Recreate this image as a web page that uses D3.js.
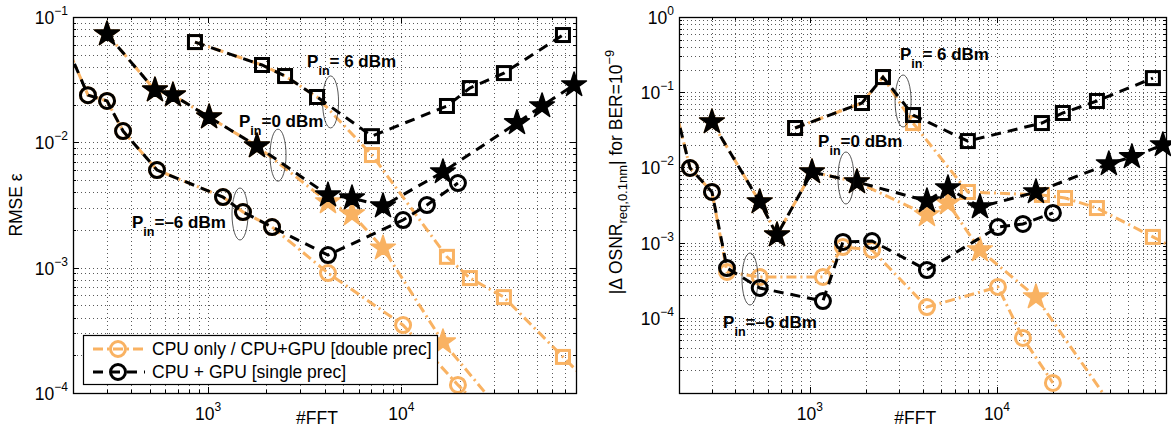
<!DOCTYPE html>
<meta charset="utf-8">
<head>
  <style>
    html, body { margin: 0; padding: 0; background: #fff; }
    svg text { font-family: "Liberation Sans", Arial, Helvetica, sans-serif; fill: #000; }
  </style>
</head>
<script src="https://cdn.jsdelivr.net/npm/d3@7/dist/d3.min.js"></script>
<body>
<script>
// x axis (#FFT) shared by both panels
var nfftDomain = [200, 80000];
var xTickExp = [3, 4];

// left panel: RMSE eps, y range and labelled decades
var rmseDomain = [1e-4, 1e-1];
var rmseTickExp = [-1, -2, -3, -4];

// right panel: |dOSNR| for BER=1e-9 (1e-5 is not labelled)
var osnrDomain = [1e-5, 1];
var osnrTickExp = [0, -1, -2, -3, -4];

// series are [nfft, value]; Dbl = CPU / CPU+GPU double, Sgl = CPU+GPU single
// Pin = 6 dBm (squares), 0 dBm (stars), -6 dBm (circles)
var rmseSq6Dbl = [[855,0.0631],[1900,0.0414],[2500,0.0338],[3660,0.0230],[7040,0.00792],[17200,0.00122],[22600,0.000826],[33900,0.000582],[68500,0.000194],[130000,0.000072]];
var rmseSq6Sgl = [[855,0.0631],[1900,0.0414],[2500,0.0338],[3660,0.0230],[7040,0.0112],[17200,0.0195],[22600,0.0271],[33900,0.0357],[68500,0.0718]];
var rmseSt0Dbl = [[300,0.0731],[531,0.0261],[658,0.0238],[1012,0.0159],[1790,0.00934],[4170,0.00334],[5550,0.00268],[8030,0.00143],[16400,0.000255],[33000,0.00007]];
var rmseSt0Sgl = [[300,0.0731],[531,0.0261],[658,0.0238],[1012,0.0159],[1790,0.00934],[4170,0.00379],[5550,0.00359],[8030,0.00310],[16400,0.00580],[39600,0.0143],[53400,0.0195],[78200,0.0287]];
var rmseCi6Dbl = [[160,0.1],[239,0.0238],[300,0.0214],[363,0.0123],[544,0.00601],[1194,0.00366],[1515,0.00278],[2142,0.00211],[4170,0.000906],[10200,0.000348],[19600,0.000116],[40000,0.000038]];
var rmseCi6Sgl = [[160,0.1],[239,0.0238],[300,0.0214],[363,0.0123],[544,0.00601],[1194,0.00366],[1515,0.00278],[2142,0.00211],[4170,0.00126],[10200,0.00240],[13550,0.00316],[19600,0.00473]];

var osnrSq6Dbl = [[834,0.0334],[1900,0.0718],[2460,0.159],[3560,0.0389],[6990,0.00471],[17380,0.00430],[23100,0.00392],[34200,0.00288],[68100,0.00119],[94800,0.000773]];
var osnrSq6Sgl = [[834,0.0334],[1900,0.0718],[2460,0.159],[3560,0.0497],[6990,0.0224],[17380,0.0389],[22500,0.0529],[34200,0.0764],[68100,0.154]];
var osnrSt0Dbl = [[300,0.0402],[540,0.00347],[668,0.00126],[1027,0.00869],[1786,0.00640],[4225,0.00233],[5470,0.00336],[8110,0.000797],[16150,0.000189],[45400,0.0000047]];
var osnrSt0Sgl = [[300,0.0402],[540,0.00347],[668,0.00126],[1027,0.00869],[1786,0.00640],[4225,0.00357],[5470,0.00532],[8110,0.00297],[16150,0.00471],[39600,0.0111],[52600,0.0138],[77000,0.0199]];
var osnrCi6Dbl = [[158,0.42],[229,0.00982],[300,0.00471],[361,0.000407],[540,0.000349],[1175,0.000349],[1503,0.000874],[2150,0.000797],[4225,0.000139],[10120,0.000257],[13760,0.0000539],[19900,0.0000136]];
var osnrCi6Sgl = [[158,0.42],[229,0.00982],[300,0.00471],[361,0.000459],[540,0.000249],[1175,0.000167],[1503,0.00102],[2150,0.00105],[4225,0.000432],[10120,0.00161],[13760,0.00177],[19900,0.00248]];

// annotations: [nfft, value] of the text anchor and of the ellipse centre
var rmseNotes = [
  {txt: "= 6 dBm", at: [3250, 0.0399], ell: [4300, 0.021]},
  {txt: "=0 dBm", at: [1445, 0.01324], ell: [2300, 0.0079]},
  {txt: "=\u20136 dBm", at: [404, 0.00207], ell: [1462, 0.00268]}
];
var osnrNotes = [
  {txt: "= 6 dBm", at: [3030, 0.268], ell: [3150, 0.0764]},
  {txt: "=0 dBm", at: [1107, 0.01867], ell: [1560, 0.00723]},
  {txt: "=\u20136 dBm", at: [344, 0.0000731], ell: [479, 0.000328]}
];

var legendLabels = ["CPU only / CPU+GPU [double prec]", "CPU + GPU [single prec]"];

var ORANGE = "#f9b262";
var dashBlack = "10,7";
var dashOrange = "10,4,2,4";
var FS = 17.5;

var svg = d3.select("body").append("svg")
  .attr("width", 1171).attr("height", 429);

var clipId = 0;

function logTicks(dom) {
  var out = [];
  for (var e = Math.floor(Math.log10(dom[0])); e <= Math.ceil(Math.log10(dom[1])); e++) {
    for (var k = 1; k <= 9; k++) {
      var v = k * Math.pow(10, e);
      if (v >= dom[0] * 0.999 && v <= dom[1] * 1.001) out.push({v: v, major: k == 1});
    }
  }
  return out;
}

function powText(sel, e) {
  sel.text("10");
  sel.append("tspan").attr("dy", -9).attr("font-size", 12)
    .text(e < 0 ? "\u2212" + (-e) : "" + e);
}

function drawPanel(opt) {
  var w = opt.width, h = opt.height;
  var g = svg.append("g").attr("transform", "translate(" + opt.left + "," + opt.top + ")");
  var x = d3.scaleLog().domain(nfftDomain).range([0, w]);
  var y = d3.scaleLog().domain(opt.yDomain).range([h, 0]);

  var xt = logTicks(nfftDomain), yt = logTicks(opt.yDomain);

  // dotted grid at every major and minor tick
  var grid = g.append("g").attr("stroke", "#222").attr("stroke-width", 1)
    .attr("stroke-dasharray", "1,3").attr("opacity", 0.75);
  grid.selectAll(".gx").data(xt).enter().append("line")
    .attr("x1", function(d) { return Math.round(x(d.v)) + 0.5; })
    .attr("x2", function(d) { return Math.round(x(d.v)) + 0.5; })
    .attr("y1", 0).attr("y2", h);
  grid.selectAll(".gy").data(yt).enter().append("line")
    .attr("y1", function(d) { return Math.round(y(d.v)) + 0.5; })
    .attr("y2", function(d) { return Math.round(y(d.v)) + 0.5; })
    .attr("x1", 0).attr("x2", w);

  // inward ticks on all four sides
  var ticks = g.append("g").attr("stroke", "#000").attr("stroke-width", 1);
  xt.forEach(function(d) {
    var px = Math.round(x(d.v)) + 0.5, len = d.major ? 6 : 3;
    ticks.append("line").attr("x1", px).attr("x2", px).attr("y1", h).attr("y2", h - len);
    ticks.append("line").attr("x1", px).attr("x2", px).attr("y1", 0).attr("y2", len);
  });
  yt.forEach(function(d) {
    var py = Math.round(y(d.v)) + 0.5, len = d.major ? 6 : 3;
    ticks.append("line").attr("y1", py).attr("y2", py).attr("x1", 0).attr("x2", len);
    ticks.append("line").attr("y1", py).attr("y2", py).attr("x1", w).attr("x2", w - len);
  });

  // tick labels
  g.selectAll(".xl").data(xTickExp).enter().append("text")
    .attr("x", function(e) { return x(Math.pow(10, e)); })
    .attr("y", h + 27).attr("text-anchor", "middle").attr("font-size", FS)
    .each(function(e) { powText(d3.select(this), e); });
  g.selectAll(".yl").data(opt.yTickExp).enter().append("text")
    .attr("x", -5).attr("y", function(e) { return y(Math.pow(10, e)) + 7; })
    .attr("text-anchor", "end").attr("font-size", FS)
    .each(function(e) { powText(d3.select(this), e); });

  // axis titles
  g.append("text").attr("x", w * 0.485).attr("y", h + 31)
    .attr("text-anchor", "middle").attr("font-size", FS).text("#FFT");
  opt.yTitle(g, h);

  // data, lines clipped to the box, markers only where inside the domain
  var cid = "clip" + (clipId++);
  g.append("clipPath").attr("id", cid).append("rect").attr("width", w).attr("height", h);
  var line = d3.line().x(function(d) { return x(d[0]); }).y(function(d) { return y(d[1]); });
  function inside(d) {
    return d[0] >= nfftDomain[0] && d[0] <= nfftDomain[1] && d[1] >= opt.yDomain[0] && d[1] <= opt.yDomain[1];
  }
  function series(data, shape, col, dash) {
    g.append("path").datum(data).attr("d", line).attr("clip-path", "url(#" + cid + ")")
      .attr("fill", "none").attr("stroke", col).attr("stroke-width", 3)
      .attr("stroke-dasharray", dash);
    var m = g.append("g");
    var pts = data.filter(inside);
    if (shape == "circle") {
      m.selectAll("circle").data(pts).enter().append("circle")
        .attr("cx", function(d) { return x(d[0]); }).attr("cy", function(d) { return y(d[1]); })
        .attr("r", 7.5).attr("fill", "none").attr("stroke", col).attr("stroke-width", 3);
    } else if (shape == "square") {
      m.selectAll("rect").data(pts).enter().append("rect")
        .attr("x", function(d) { return x(d[0]) - 6.5; }).attr("y", function(d) { return y(d[1]) - 6.5; })
        .attr("width", 13).attr("height", 13)
        .attr("fill", "none").attr("stroke", col).attr("stroke-width", 3);
    } else {
      m.selectAll("path").data(pts).enter().append("path")
        .attr("d", d3.symbol(d3.symbolStar, 190))
        .attr("transform", function(d) { return "translate(" + x(d[0]) + "," + y(d[1]) + ")"; })
        .attr("fill", col).attr("stroke", col).attr("stroke-width", 1.5).attr("stroke-linejoin", "round");
    }
  }
  var s = opt.series;
  series(s.sq6Dbl, "square", ORANGE, dashOrange);
  series(s.st0Dbl, "star", ORANGE, dashOrange);
  series(s.ci6Dbl, "circle", ORANGE, dashOrange);
  series(s.sq6Sgl, "square", "#000", dashBlack);
  series(s.st0Sgl, "star", "#000", dashBlack);
  series(s.ci6Sgl, "circle", "#000", dashBlack);

  // Pin annotations
  opt.notes.forEach(function(n) {
    g.append("ellipse").attr("cx", x(n.ell[0])).attr("cy", y(n.ell[1]))
      .attr("rx", 8).attr("ry", 26).attr("fill", "none")
      .attr("stroke", "#111").attr("stroke-width", 0.7);
    var t = g.append("text").attr("x", x(n.at[0])).attr("y", y(n.at[1]))
      .attr("font-size", 17).attr("font-weight", "bold");
    t.append("tspan").text("P");
    t.append("tspan").attr("dy", 8).attr("font-size", 12.5).text("in");
    t.append("tspan").attr("dy", -8).text(n.txt);
  });

  // frame
  g.append("rect").attr("x", 0.5).attr("y", 0.5).attr("width", w).attr("height", h)
    .attr("fill", "none").attr("stroke", "#000").attr("stroke-width", 1.3);

  return g;
}

var left = drawPanel({
  left: 73, top: 17, width: 503, height: 376,
  yDomain: rmseDomain, yTickExp: rmseTickExp,
  series: {sq6Dbl: rmseSq6Dbl, sq6Sgl: rmseSq6Sgl, st0Dbl: rmseSt0Dbl, st0Sgl: rmseSt0Sgl, ci6Dbl: rmseCi6Dbl, ci6Sgl: rmseCi6Sgl},
  notes: rmseNotes,
  yTitle: function(g, h) {
    g.append("text").attr("transform", "translate(-51," + (h / 2) + ") rotate(-90)")
      .attr("text-anchor", "middle").attr("font-size", FS).text("RMSE \u03b5");
  }
});

drawPanel({
  left: 679, top: 17, width: 487, height: 376,
  yDomain: osnrDomain, yTickExp: osnrTickExp,
  series: {sq6Dbl: osnrSq6Dbl, sq6Sgl: osnrSq6Sgl, st0Dbl: osnrSt0Dbl, st0Sgl: osnrSt0Sgl, ci6Dbl: osnrCi6Dbl, ci6Sgl: osnrCi6Sgl},
  notes: osnrNotes,
  yTitle: function(g, h) {
    var t = g.append("text").attr("transform", "translate(-57,155) rotate(-90)")
      .attr("text-anchor", "middle").attr("font-size", FS);
    t.append("tspan").text("|\u0394 OSNR");
    t.append("tspan").attr("dy", 5).attr("font-size", 13).text("req,0.1nm");
    t.append("tspan").attr("dy", -5).text("| for BER=10");
    t.append("tspan").attr("dy", -8).attr("font-size", 13).text("\u22129");
  }
});

// legend in the left panel
var lg = left.append("g").attr("transform", "translate(10,318)");
lg.append("rect").attr("x", 0.5).attr("y", 0.5).attr("width", 354).attr("height", 49)
  .attr("fill", "#fff").attr("stroke", "#000").attr("stroke-width", 1.2);
var legendStyle = [{col: ORANGE, dash: dashOrange}, {col: "#000", dash: dashBlack}];
legendLabels.forEach(function(lab, i) {
  var yy = 14 + i * 23;
  lg.append("line").attr("x1", 10).attr("x2", 62).attr("y1", yy).attr("y2", yy)
    .attr("stroke", legendStyle[i].col).attr("stroke-width", 3).attr("stroke-dasharray", legendStyle[i].dash);
  lg.append("circle").attr("cx", 35).attr("cy", yy).attr("r", 7.5).attr("fill", "none")
    .attr("stroke", legendStyle[i].col).attr("stroke-width", 3);
  lg.append("text").attr("x", 69).attr("y", yy + 6).attr("font-size", FS).text(lab);
});
</script>
</body>
